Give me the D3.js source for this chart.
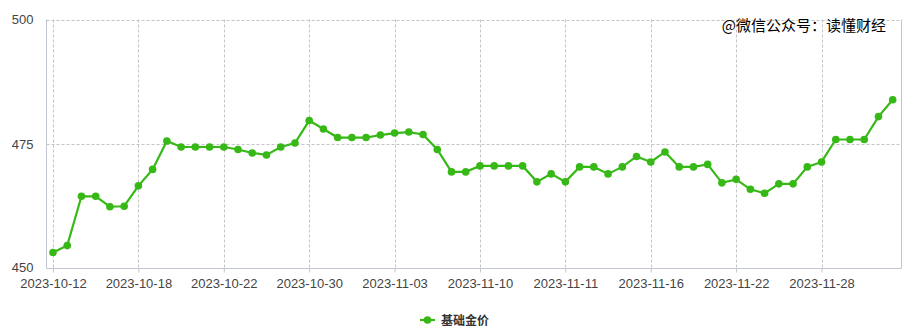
<!DOCTYPE html>
<html><head><meta charset="utf-8">
<script src="https://cdn.jsdelivr.net/npm/d3@7"></script>
<style>body{margin:0;background:#fff}svg{display:block}</style>
</head><body>
<svg id="c" width="910" height="331"></svg>
<script>
const seriesName = "基础金价";
const values = [453.2,454.6,464.5,464.5,462.4,462.5,466.6,469.9,475.6,474.4,
474.4,474.4,474.4,473.9,473.2,472.8,474.4,475.2,479.7,478.0,
476.3,476.3,476.3,476.8,477.2,477.4,476.9,473.9,469.4,469.4,
470.6,470.6,470.6,470.6,467.4,469.0,467.4,470.4,470.4,469.0,
470.4,472.5,471.4,473.4,470.4,470.4,470.9,467.2,467.9,465.9,
465.1,467.0,467.0,470.4,471.4,475.9,475.9,475.9,480.5,483.9];
const tickLabels = ["2023-10-12","2023-10-18","2023-10-22","2023-10-30","2023-11-03","2023-11-10","2023-11-11","2023-11-16","2023-11-22","2023-11-28"];
const tickEvery = 6;
const yTicks = [450,475,500];
const watermark = "@微信公众号：读懂财经";

const svg = d3.select("#c");
const L=46.5, R=901.5, T=19.5, B=268.5;
const x = d3.scaleLinear().domain([0, values.length-1]).range([53, 892.7]);
const y = d3.scaleLinear().domain([450,500]).range([B, T]);
const font = "'Liberation Sans', Arial, sans-serif";

// grid
const tickIdx = tickLabels.map((d,i)=>i*tickEvery);
svg.append("g").selectAll("line").data(tickIdx).join("line")
  .attr("x1",d=>Math.round(x(d))+0.5).attr("x2",d=>Math.round(x(d))+0.5)
  .attr("y1",T).attr("y2",B).attr("stroke","#c4c4c4").attr("stroke-dasharray","3,2");
svg.append("g").selectAll("line").data(yTicks.filter(v=>v>450)).join("line")
  .attr("x1",L).attr("x2",R).attr("y1",d=>Math.round(y(d))+0.5).attr("y2",d=>Math.round(y(d))+0.5)
  .attr("stroke","#c4c4c4").attr("stroke-dasharray","3,2");
// borders
svg.append("path").attr("d",`M${L},${T}V${B}H${R}V${T}`).attr("fill","none").attr("stroke","#c0c6cf");

// x axis
const xa = d3.axisBottom(x).tickValues(tickIdx).tickFormat((d,i)=>tickLabels[i]).tickSize(4).tickPadding(6);
const gx = svg.append("g").attr("transform",`translate(0,${B})`).call(xa);
gx.select(".domain").remove();
gx.selectAll("line").attr("stroke","#c0c6cf");
gx.selectAll("text").attr("fill","#444").style("font-family",font).style("font-size","13px");

// y axis labels
const ya = d3.axisLeft(y).tickValues(yTicks).tickSize(0).tickPadding(13);
const gy = svg.append("g").attr("transform",`translate(${L},0)`).call(ya);
gy.select(".domain").remove();
gy.selectAll("text").attr("fill","#444").style("font-family",font).style("font-size","13px");
gy.selectAll("text").filter(d=>d===450).attr("dy","0.2em");

// line
const color = "#36b816";
svg.append("path").datum(values)
  .attr("d", d3.line().x((d,i)=>x(i)).y(d=>y(d)))
  .attr("fill","none").attr("stroke",color).attr("stroke-width",2.2);
svg.append("g").selectAll("circle").data(values).join("circle")
  .attr("cx",(d,i)=>x(i)).attr("cy",d=>y(d)).attr("r",3.8).attr("fill",color);

// watermark
svg.append("text").attr("x",886).attr("y",31).attr("text-anchor","end")
  .style("font-family","'Noto Sans CJK SC', sans-serif").style("font-size","15px")
  .attr("fill","#000").text(watermark);

// legend
const lg = svg.append("g").attr("transform","translate(420,320)");
lg.append("line").attr("x1",0).attr("x2",15).attr("stroke",color).attr("stroke-width",2.2);
lg.append("circle").attr("cx",7.5).attr("r",3.8).attr("fill",color);
lg.append("text").attr("x",21).attr("y",4.5).style("font-family","'Noto Sans CJK SC', sans-serif")
  .style("font-size","12px").style("font-weight","bold").attr("fill","#333").text(seriesName);
</script>
</body></html>
